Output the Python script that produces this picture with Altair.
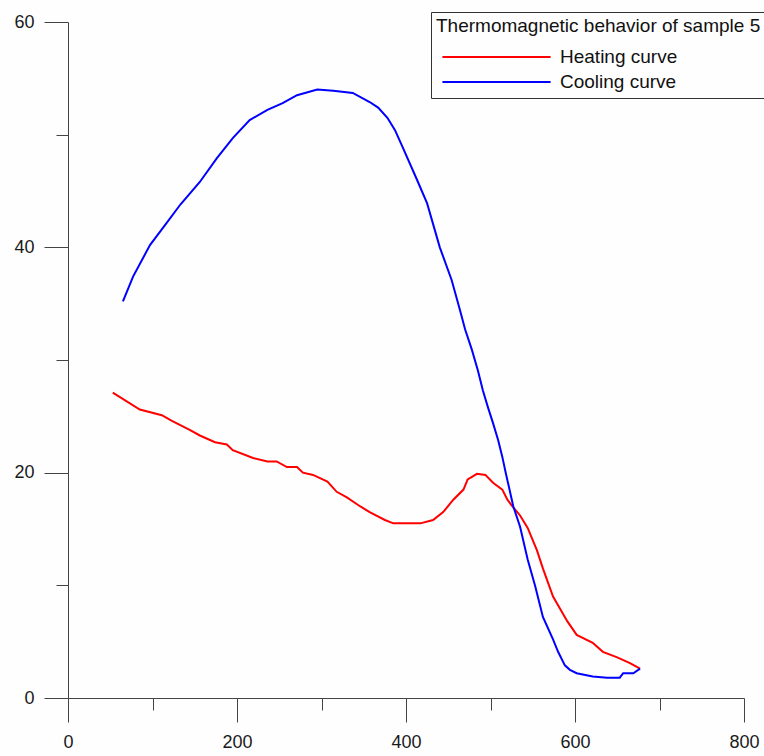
import altair as alt
import pandas as pd

# ---- data ----
heat_T = [53, 85, 111, 123, 144, 156, 174, 188, 195, 219, 236, 247, 259, 271, 278, 290, 307, 318, 330, 346,
          357, 375, 385, 417, 432, 444, 456, 468, 473, 484, 494, 503, 514, 520, 525, 535, 544, 555, 562, 574,
          591, 602, 621, 633, 650, 665, 677]
heat_M = [27.1, 25.6, 25.1, 24.6, 23.8, 23.3, 22.7, 22.5, 22.0, 21.3, 21.0, 21.0, 20.5, 20.5, 20.0, 19.8, 19.2, 18.3, 17.8, 17.0,
          16.5, 15.8, 15.5, 15.5, 15.8, 16.5, 17.6, 18.5, 19.4, 19.9, 19.8, 19.1, 18.5, 17.6, 17.1, 16.2, 15.1, 13.1, 11.5, 9.0,
          6.8, 5.6, 4.9, 4.1, 3.6, 3.1, 2.6]

cool_T = [65, 77, 97, 117, 133, 156, 176, 195, 215, 236, 254, 271, 295, 314, 337, 357, 367, 378, 387, 396,
          413, 425, 440, 454, 464, 470, 478, 485, 491, 497, 503, 509, 514, 518, 527, 535, 544, 553, 562, 574,
          580, 588, 594, 602, 621, 638, 653, 657, 669, 677]
cool_M = [35.2, 37.4, 40.2, 42.2, 43.8, 45.8, 47.9, 49.7, 51.3, 52.2, 52.8, 53.5, 54.0, 53.9, 53.7, 52.9, 52.4, 51.5, 50.4, 48.9,
          46.0, 43.9, 40.0, 37.1, 34.4, 32.7, 30.9, 29.1, 27.3, 25.8, 24.4, 22.9, 21.4, 20.0, 17.0, 15.2, 12.3, 9.9, 7.2, 5.2,
          4.1, 2.9, 2.5, 2.2, 1.9, 1.8, 1.8, 2.2, 2.2, 2.6]

series_names = ["Heating curve", "Cooling curve"]
series_colors = ["#ff0000", "#0000ff"]
legend_title = "Thermomagnetic behavior of sample 5"

x_major = [0, 200, 400, 600, 800]
x_minor = [100, 300, 500, 700]
y_major = [0, 20, 40, 60]
y_minor = [10, 30, 50]

rows = []
for i, (t, m) in enumerate(zip(heat_T, heat_M)):
    rows.append({"T": t, "M": m, "series": series_names[0], "idx": i})
for i, (t, m) in enumerate(zip(cool_T[::-1], cool_M[::-1])):
    rows.append({"T": t, "M": m, "series": series_names[1], "idx": i})
df = pd.DataFrame(rows)

FONT = "Liberation Sans"
AX = "#444444"
xscale = alt.Scale(domain=[0, 800], nice=False, zero=False)
yscale = alt.Scale(domain=[0, 60], nice=False, zero=False)

common_axis = dict(title=None, grid=False, domainColor=AX, tickColor=AX, domainWidth=1, tickWidth=1,
                   labelFont=FONT, labelFontSize=18, labelColor="#1a1a1a",
                   labelFlush=False, labelOverlap=False)

lines = alt.Chart(df).mark_line(strokeWidth=2).encode(
    x=alt.X("T:Q", scale=xscale,
            axis=alt.Axis(values=x_major, tickSize=24, labelPadding=11, orient="bottom", **common_axis)),
    y=alt.Y("M:Q", scale=yscale,
            axis=alt.Axis(values=y_major, tickSize=24, labelPadding=10, orient="left", **common_axis)),
    color=alt.Color("series:N",
                    scale=alt.Scale(domain=series_names, range=series_colors),
                    legend=alt.Legend(title=legend_title, orient="none", legendX=363, legendY=-10,
                                      direction="vertical",
                                      titleFont=FONT, titleFontSize=19, titleFontWeight="normal",
                                      titleColor="#111111", titleLimit=2000, titlePadding=10,
                                      labelFont=FONT, labelFontSize=19, labelColor="#111111", labelLimit=2000,
                                      symbolType="stroke", symbolSize=11700, symbolStrokeWidth=2,
                                      symbolOffset=5, labelOffset=8, clipHeight=22, rowPadding=3,
                                      padding=5, strokeColor="#333333", fillColor="#fefefe")),
    order="idx:Q",
)

minor = alt.Chart(df).mark_point(opacity=0).encode(
    x=alt.X("T:Q", scale=xscale,
            axis=alt.Axis(values=x_minor, tickSize=12, labels=False, domain=False, orient="bottom",
                          title=None, grid=False, tickColor=AX, tickWidth=1)),
    y=alt.Y("M:Q", scale=yscale,
            axis=alt.Axis(values=y_minor, tickSize=12, labels=False, domain=False, orient="left",
                          title=None, grid=False, tickColor=AX, tickWidth=1)),
)

chart = alt.layer(lines, minor).resolve_axis(x="independent", y="independent").properties(
    width=676, height=676,
    autosize=alt.AutoSizeParams(type="none"),
    padding={"left": 68, "top": 22, "right": 20, "bottom": 58},
    background="#fefefe",
).configure_view(stroke=None)

chart.save("out.html", embed_options={"renderer": "svg", "actions": False})
